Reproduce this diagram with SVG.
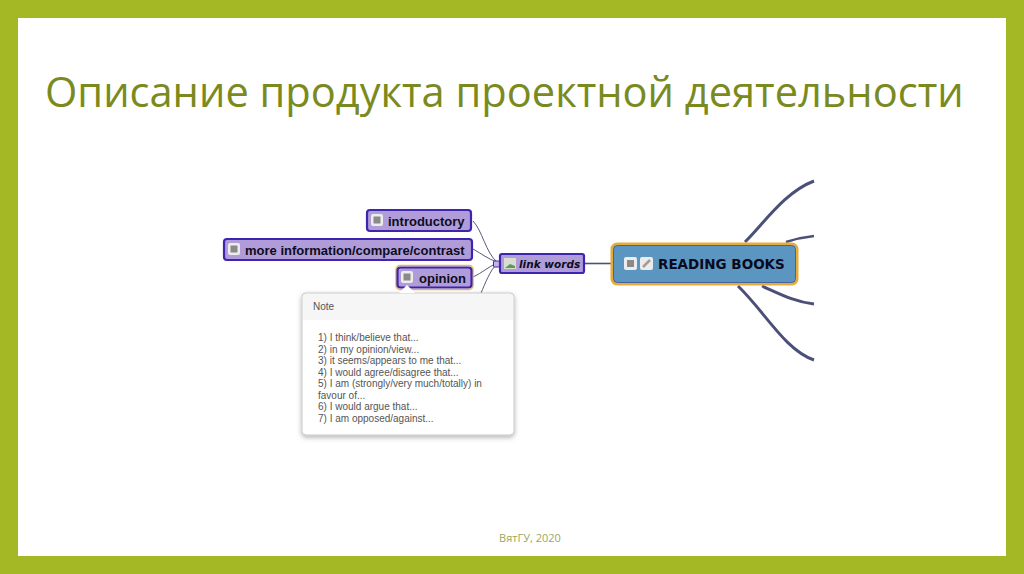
<svg xmlns="http://www.w3.org/2000/svg" width="1024" height="574" viewBox="0 0 1024 574">
<defs>
<filter id="sh" x="-10%" y="-10%" width="120%" height="125%"><feDropShadow dx="0" dy="2" stdDeviation="2.5" flood-color="#000" flood-opacity="0.3"/></filter>
</defs>
<style>
.sub{fill:#b09cd8;stroke:#3f24b0;stroke-width:2.2}
.t{font-family:"Liberation Sans",Arial,sans-serif;font-weight:bold;fill:#0c0c20;font-size:13px}
.ic{fill:#ececec}
.ig{fill:#8a8a8a}
.thin{fill:none;stroke:#5a5a7c;stroke-width:1}
.thick{fill:none;stroke:#4c5078;stroke-linecap:butt}
.n{font-family:"Liberation Sans",Arial,sans-serif;font-size:10px;fill:#555}
</style>
<rect width="1024" height="574" fill="#a4b826"/>
<rect x="18" y="18" width="988" height="538" fill="#fff"/>
<text x="45" y="107" font-family="Open Sans,'Noto Sans',sans-serif" font-size="41.600" fill="#7a8a1e" id="title">Описание продукта проектной деятельности</text>
<g id="connectors">
<path class="thin" d="M473 221C482 230 486 253 497 262"/>
<path class="thin" d="M473 249C482 254 488 259 497 262"/>
<path class="thin" d="M473 277C482 273 488 267 497 263"/>
<path class="thin" d="M481 293C485 284 490 270 497 264"/>
<path class="thick" stroke-width="1.600" d="M585 263.500H612"/>
<path class="thick" stroke-width="3" d="M745 242C765 222 785 192 814 181"/>
<path class="thick" stroke-width="2.500" d="M786 242C795 239 805 237 814 236"/>
<path class="thick" stroke-width="3" d="M762 286C780 294 795 302 814 304"/>
<path class="thick" stroke-width="3" d="M738 286C765 312 785 350 814 360"/>
</g>
<g id="node-introductory">
<rect class="sub" x="367" y="210" width="104" height="21" rx="3"/>
<rect class="ic" x="371" y="214" width="12" height="12" rx="2"/><rect class="ig" x="373.500" y="216.500" width="7" height="7"/>
<text class="t" x="388" y="226">introductory</text>
</g>
<g id="node-more">
<rect class="sub" x="224" y="239" width="248" height="21" rx="3"/>
<rect class="ic" x="228" y="243" width="12" height="12" rx="2"/><rect class="ig" x="230.500" y="245.500" width="7" height="7"/>
<text class="t" x="245" y="255">more information/compare/contrast</text>
</g>
<g id="node-opinion">
<rect x="396" y="265.500" width="77" height="24" rx="4" fill="none" stroke="#e8b84c" stroke-width="1.500"/>
<rect class="sub" x="397.500" y="267.500" width="74" height="20" rx="3"/>
<rect class="ic" x="401" y="271" width="12" height="12" rx="2"/><rect class="ig" x="403.500" y="273.500" width="7" height="7"/>
<text class="t" x="419" y="283">opinion</text>
</g>
<g id="node-link-words">
<rect x="493.500" y="261" width="6" height="6" rx="1" fill="#c4b4e4" stroke="#3f24b0"/>
<rect class="sub" x="500" y="254" width="84" height="19" rx="2"/>
<rect x="504" y="258" width="12" height="11" fill="#d8ddd4"/><path d="M505 268l5-4 5 2v2z" fill="#5f9a55"/>
<text x="519" y="268" font-family="'DejaVu Sans',sans-serif" font-weight="bold" font-style="italic" font-size="10.500" fill="#0c0c20">link words</text>
</g>
<g id="node-reading-books">
<rect x="612" y="244" width="185" height="40" rx="5" fill="#5b96c0" stroke="#e3ac3c" stroke-width="3"/>
<rect x="613.500" y="245.500" width="182" height="37" rx="4" fill="none" stroke="#48629c" stroke-width="1"/>
<rect class="ic" x="624" y="257" width="13" height="13" rx="2"/><rect class="ig" x="627" y="260" width="7" height="7"/>
<rect class="ic" x="640" y="257" width="13" height="13" rx="2"/><path d="M643 267l7-7" stroke="#a89a9a" stroke-width="2.500"/>
<text x="658" y="269" font-family="'DejaVu Sans',sans-serif" font-weight="bold" font-size="13.500" fill="#0a0a1e">READING BOOKS</text>
</g>
<g id="note">
<rect x="302" y="293" width="212" height="142" rx="4" fill="#fff" stroke="#c8c8c8" filter="url(#sh)"/>
<path d="M303 320V297q0-3 3-3H510q3 0 3 3V320z" fill="#f6f6f6"/>
<path d="M399 293L407 285L415 293z" fill="#fff"/>
<text class="n" x="313" y="310" fill="#666">Note</text>
<text class="n" x="318" y="341">1) I think/believe that...</text>
<text class="n" x="318" y="352.500">2) in my opinion/view...</text>
<text class="n" x="318" y="364">3) it seems/appears to me that...</text>
<text class="n" x="318" y="375.500">4) I would agree/disagree that...</text>
<text class="n" x="318" y="387">5) I am (strongly/very much/totally) in</text>
<text class="n" x="318" y="398.500">favour of...</text>
<text class="n" x="318" y="410">6) I would argue that...</text>
<text class="n" x="318" y="421.500">7) I am opposed/against...</text>
</g>
<text x="530" y="542" text-anchor="middle" font-family="Open Sans,'Noto Sans',sans-serif" font-size="11" fill="#9aa85a" id="footer">ВятГУ, 2020</text>
</svg>
